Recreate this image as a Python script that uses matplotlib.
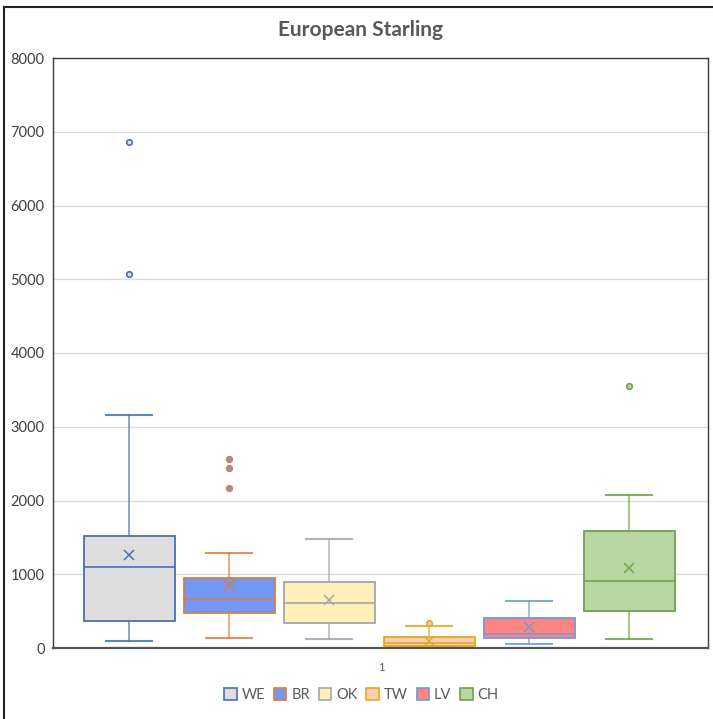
import matplotlib
matplotlib.use("Agg")
import matplotlib.pyplot as plt
from matplotlib.patches import Patch
from matplotlib.lines import Line2D

plt.rcParams['font.family'] = ['Lato', 'DejaVu Sans']

series = ["WE", "BR", "OK", "TW", "LV", "CH"]
whislo = [95, 136, 127, 20, 50, 118]
q1 = [366, 475, 339, 31, 136, 506]
med = [1099, 665, 615, 68, 195, 905]
q3 = [1520, 950, 896, 145, 403, 1583]
whishi = [3161, 1289, 1479, 298, 642, 2072]
means = [1262, 855, 656, 95, 281, 1081]
fliers = [[6866, 5075], [2569, 2438, 2175], [], [339], [], [3551]]
category = ["1"]

fills = ["#DEDEDE", "#7399F5", "#FFEFBA", "#F9CFB0", "#FF8585", "#B8D7A2"]
edges = ["#4A70B8", "#E07B3F", "#A6A6A6", "#E0AA1F", "#6F9BD0", "#6FA34C"]

fig = plt.figure(figsize=(7.13, 7.19), dpi=100)
ax = fig.add_axes([53/713, 1-648/719, (708-53)/713, (648-58)/719])

for i, s in enumerate(series):
    stats = [dict(med=med[i], q1=q1[i], q3=q3[i], whislo=whislo[i], whishi=whishi[i],
                  mean=means[i], fliers=fliers[i], label=s)]
    ec = edges[i]
    ax.bxp(stats, positions=[i], widths=0.91, patch_artist=True, showmeans=True,
           boxprops=dict(facecolor=fills[i], edgecolor=ec, linewidth=1.3),
           medianprops=dict(color=ec, linewidth=1.2),
           whiskerprops=dict(color=ec, linewidth=1.2, alpha=0.75),
           capprops=dict(color=ec, linewidth=1.5, alpha=0.85),
           meanprops=dict(marker='x', markeredgecolor=ec, markersize=7, markeredgewidth=1.1),
           flierprops=dict(marker='o', markerfacecolor=fills[i], markeredgecolor=ec,
                           markersize=4, markeredgewidth=1.2),
           manage_ticks=False)

ax.set_xlim(-0.76, 5.79)
ax.set_ylim(0, 8000)
ax.set_yticks(range(0, 8001, 1000))
ax.set_xticks([2.52])
ax.set_xticklabels(category)
ax.tick_params(axis='y', length=0, labelsize=10.5, labelcolor='#404040', pad=6)
ax.tick_params(axis='x', length=0, labelsize=8, labelcolor='#595959', pad=10)
ax.grid(axis='y', color='#DCDCDC', linewidth=1)
ax.set_axisbelow(True)
for sp in ax.spines.values():
    sp.set_color('#3A3A3A')
    sp.set_linewidth(1)
ax.spines['bottom'].set_color('#555555')
ax.spines['bottom'].set_linewidth(1.6)

fig.text(0.505, 1-30/719, "European Starling", ha='center', va='center',
         fontsize=15, fontweight='bold', color='#595959')

handles = [Patch(facecolor=fills[i], edgecolor=edges[i], linewidth=1.2, label=s)
           for i, s in enumerate(series)]
fig.legend(handles=handles, loc='center', bbox_to_anchor=(0.507, 1-695/719), ncol=6,
           frameon=False, fontsize=10.5, labelcolor='#595959', handlelength=0.85,
           handleheight=0.85, handletextpad=0.35, columnspacing=0.6)

fig.add_artist(Line2D([3.5/713, 3.5/713], [0, 1-7/719], transform=fig.transFigure,
                      color='#222222', linewidth=1.5))
fig.add_artist(Line2D([3.5/713, 1], [1-7/719, 1-7/719], transform=fig.transFigure,
                      color='#222222', linewidth=1.5))

fig.savefig("out.png", dpi=100)
